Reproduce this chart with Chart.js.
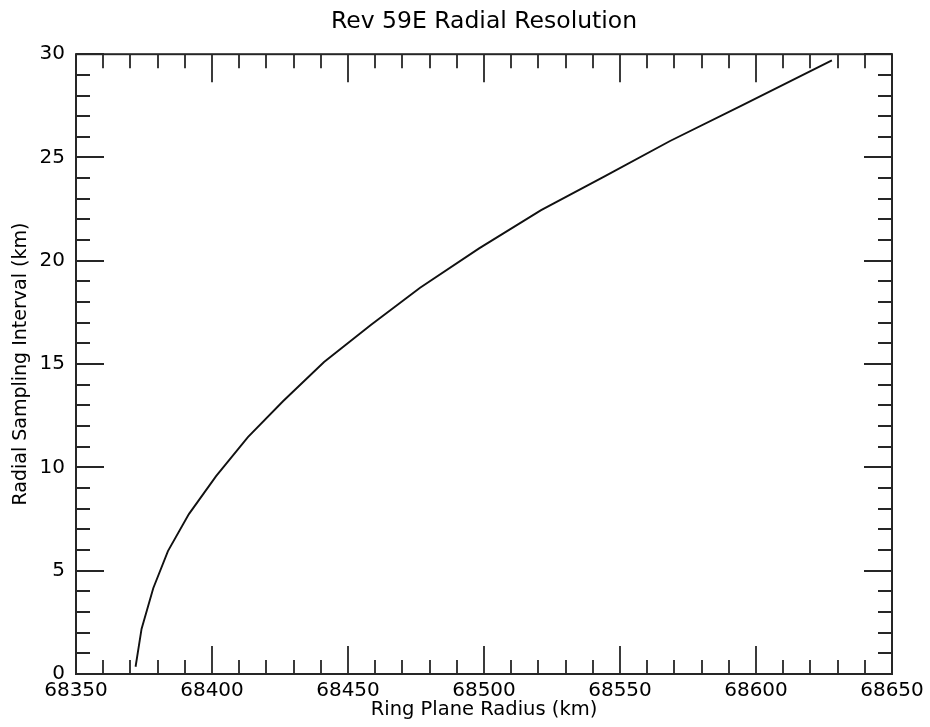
<!DOCTYPE html>
<html>
<head>
<meta charset="utf-8">
<title>Rev 59E Radial Resolution</title>
<script src="https://cdn.jsdelivr.net/npm/chart.js@4"></script>
<style>
    html, body { margin: 0; padding: 0; background: #fff; }
    #wrap { width: 930px; height: 727px; }
</style>
</head>
<body>
<div id="wrap"><canvas id="resChart"></canvas></div>
<script>
// --- Data ---
const radiusKm = [68371.9, 68374.1, 68378.4, 68383.8, 68391.5, 68401.5, 68413.2, 68426.1, 68441.2,
                  68458.5, 68476.5, 68498.2, 68521.0, 68544.5, 68568.4, 68594.5, 68627.9];
const samplingKm = [0.35, 2.18, 4.15, 5.95, 7.74, 9.58, 11.47, 13.2, 15.1,
                    16.9, 18.7, 20.6, 22.45, 24.1, 25.8, 27.5, 29.7];

const xTicks = [68350, 68400, 68450, 68500, 68550, 68600, 68650];
const yTicks = [0, 5, 10, 15, 20, 25, 30];
const xMinorStep = 10;
const yMinorStep = 1;

const FONT = 'DejaVu Sans';
const INK = '#000';
const FRAME = '#262626';

// --- Inward tick marks + frame, drawn like the original plot ---
const inwardTicks = {
    id: 'inwardTicks',
    afterDatasetsDraw(chart) {
        const { ctx, chartArea: a, scales: { x, y } } = chart;
        const major = 28, minor = 14;
        ctx.save();
        ctx.strokeStyle = FRAME;
        ctx.lineWidth = 1.8;
        ctx.beginPath();

        for (let v = x.min; v <= x.max + 1e-6; v += xMinorStep) {
            const px = Math.round(x.getPixelForValue(v));
            const len = xTicks.includes(Math.round(v)) ? major : minor;
            ctx.moveTo(px, a.bottom); ctx.lineTo(px, a.bottom - len);
            ctx.moveTo(px, a.top); ctx.lineTo(px, a.top + len);
        }
        for (let v = y.min; v <= y.max + 1e-6; v += yMinorStep) {
            const py = Math.round(y.getPixelForValue(v));
            const len = yTicks.includes(Math.round(v)) ? major : minor;
            ctx.moveTo(a.left, py); ctx.lineTo(a.left + len, py);
            ctx.moveTo(a.right, py); ctx.lineTo(a.right - len, py);
        }
        ctx.stroke();

        ctx.lineWidth = 2;
        ctx.strokeRect(a.left, a.top, a.right - a.left, a.bottom - a.top);
        ctx.restore();
    }
};

const points = radiusKm.map((r, i) => ({ x: r, y: samplingKm[i] }));

new Chart(document.getElementById('resChart'), {
    type: 'scatter',
    data: {
        datasets: [{
            data: points,
            showLine: true,
            borderColor: '#111',
            borderWidth: 1.9,
            pointRadius: 0,
            tension: 0,
            fill: false
        }]
    },
    options: {
        responsive: true,
        maintainAspectRatio: false,
        animation: false,
        layout: { padding: { left: 0, right: 38, top: 0, bottom: 0 } },
        plugins: {
            legend: { display: false },
            tooltip: { enabled: false },
            title: {
                display: true,
                fullSize: false,
                text: 'Rev 59E Radial Resolution',
                color: INK,
                font: { family: FONT, size: 23.5, weight: 'normal' },
                padding: { top: 8, bottom: 18 }
            }
        },
        scales: {
            x: {
                type: 'linear',
                min: 68350,
                max: 68650,
                afterBuildTicks: s => { s.ticks = xTicks.map(v => ({ value: v })); },
                afterFit: s => { s.height = 53; },
                grid: { display: false, drawTicks: false },
                border: { display: false },
                ticks: {
                    color: INK,
                    padding: 5,
                    maxRotation: 0,
                    autoSkip: false,
                    font: { family: FONT, size: 20 },
                    callback: v => String(v)
                },
                title: {
                    display: true,
                    text: 'Ring Plane Radius (km)',
                    color: INK,
                    font: { family: FONT, size: 19.5 },
                    padding: { top: 0, bottom: 5 }
                }
            },
            y: {
                type: 'linear',
                min: 0,
                max: 30,
                afterBuildTicks: s => { s.ticks = yTicks.map(v => ({ value: v })); },
                afterFit: s => { s.width = 76; },
                grid: { display: false, drawTicks: false },
                border: { display: false },
                ticks: {
                    color: INK,
                    padding: 11,
                    autoSkip: false,
                    font: { family: FONT, size: 20 },
                    callback: v => String(v)
                },
                title: {
                    display: true,
                    text: 'Radial Sampling Interval (km)',
                    color: INK,
                    font: { family: FONT, size: 19 },
                    padding: { top: 10, bottom: 0 }
                }
            }
        }
    },
    plugins: [inwardTicks]
});
</script>
</body>
</html>
